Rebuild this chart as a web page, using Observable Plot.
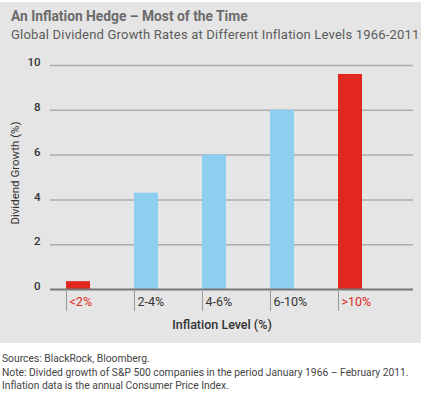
<!DOCTYPE html>
<html><head><meta charset="utf-8">
<script src="https://cdn.jsdelivr.net/npm/d3@7"></script>
<script src="https://cdn.jsdelivr.net/npm/@observablehq/plot@0.6"></script>
<style>
body{margin:0;background:#fff;font-family:Roboto, sans-serif;width:425px;height:394px;overflow:hidden;position:relative;}
#panel{position:absolute;left:0;top:2px;width:421px;height:341px;background:#e5e5e5;}
#title{position:absolute;left:11px;top:6px;font-size:13.8px;font-weight:bold;color:#6b6b6b;white-space:nowrap;}
#subtitle{position:absolute;left:11px;top:25px;font-size:13px;letter-spacing:0.2px;color:#5c5c5c;white-space:nowrap;}
#chart{position:absolute;left:0;top:38px;}
#ylabel{position:absolute;left:15px;top:171px;transform:translate(-50%,-50%) rotate(-90deg);font-size:11.5px;color:#333;white-space:nowrap;}
#notes{position:absolute;left:2px;top:352px;font-size:10.3px;line-height:13.5px;color:#444;white-space:nowrap;}
</style>
</head><body>
<div id="panel">
  <div id="title">An Inflation Hedge – Most of the Time</div>
  <div id="subtitle">Global Dividend Growth Rates at Different Inflation Levels 1966-2011</div>
  <div id="chart"></div>
  <div id="ylabel"></div>
</div>
<div id="notes">Sources: BlackRock, Bloomberg.<br>Note: Divided growth of S&amp;P 500 companies in the period January 1966 – February 2011.<br>Inflation data is the annual Consumer Price Index.</div>
<script>
const categories = ["<2%", "2-4%", "4-6%", "6-10%", ">10%"];
const growth = [0.35, 4.3, 6.0, 8.0, 9.6];
const yTicks = [0, 2, 4, 6, 8, 10];
const highlighted = ["<2%", ">10%"];
const yLabel = "Dividend Growth (%)";
const xLabel = "Inflation Level (%)";

const RED = "#e2271f", BLUE = "#8ccff0";
const data = categories.map((c, i) => ({cat: c, value: growth[i]}));

document.getElementById("ylabel").textContent = yLabel;

const chart = Plot.plot({
  width: 421, height: 300,
  marginLeft: 50, marginRight: 8, marginTop: 25, marginBottom: 51,
  style: {background: "transparent", fontFamily: "Roboto, sans-serif", overflow: "visible"},
  x: {domain: categories, paddingInner: 0.6471, paddingOuter: 0.4926, align: 0.2388},
  y: {domain: [0, 10]},
  marks: [
    Plot.ruleY(yTicks.filter(d => d > 0), {stroke: "#adadad", strokeWidth: 1.5}),
    Plot.barY(data, {x: "cat", y: "value", fill: d => highlighted.includes(d.cat) ? RED : BLUE}),
    Plot.ruleY([0], {stroke: "#777", strokeWidth: 2}),
    Plot.axisX({tickSize: 22, dx: -12, tickFormat: () => "", stroke: "#999", label: null}),
    Plot.text(categories, {x: d => d, frameAnchor: "bottom", dy: 16.5, dx: -9, textAnchor: "start",
      fontSize: 12.5, fill: d => highlighted.includes(d) ? RED : "#333"}),
    Plot.text([xLabel], {frameAnchor: "bottom", dy: 39, dx: -10, fontSize: 12.5, fontWeight: 500, fill: "#333"}),
    Plot.axisY(yTicks, {tickSize: 0, tickPadding: 10, dy: -3, fontSize: 11.5, fontWeight: 500, fill: "#333", label: null})
  ]
});
document.getElementById("chart").appendChild(chart);
</script>
</body></html>
